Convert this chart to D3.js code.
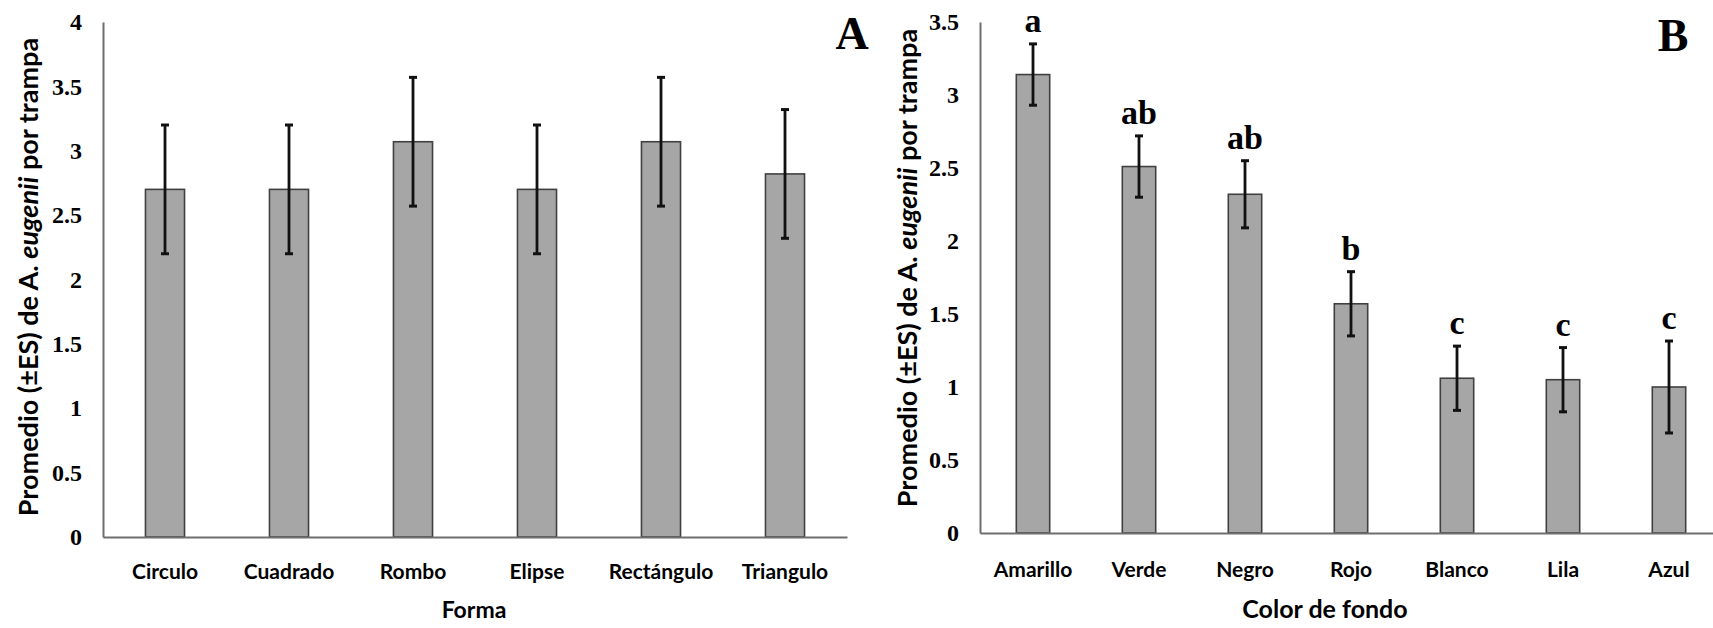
<!DOCTYPE html>
<html>
<head>
<meta charset="utf-8">
<script src="https://cdn.jsdelivr.net/npm/d3@7"></script>
<style>
  body { margin: 0; background: #fff; }
  .axis path { stroke: #6e6e6e; stroke-width: 2; }
  .bar { fill: #a6a6a6; stroke: #404040; stroke-width: 1.6; }
  .err { stroke: #111; stroke-width: 2.8; }
  .cap { stroke: #111; stroke-width: 3; }
  .title { font-family: Lato, "Open Sans", sans-serif; font-weight: bold; fill: #000; }
  .letter { font-family: "Liberation Serif", "Times New Roman", serif; font-weight: bold; font-size: 34px; text-anchor: middle; }
  .panel { font-family: "Liberation Serif", "Times New Roman", serif; font-weight: bold; font-size: 46px; text-anchor: middle; }
</style>
</head>
<body>
<svg id="chart"></svg>
<script>
// Panel A - shape of trap
const formaCategories = ['Circulo', 'Cuadrado', 'Rombo', 'Elipse', 'Rectángulo', 'Triangulo'];
const formaMeans = [2.7, 2.7, 3.07, 2.7, 3.07, 2.82];
const formaErrors = [0.5, 0.5, 0.5, 0.5, 0.5, 0.5];
const formaTicks = [0, 0.5, 1, 1.5, 2, 2.5, 3, 3.5, 4];

// Panel B - background colour
const colorCategories = ['Amarillo', 'Verde', 'Negro', 'Rojo', 'Blanco', 'Lila', 'Azul'];
const colorMeans = [3.14, 2.51, 2.32, 1.57, 1.06, 1.05, 1.0];
const colorErrors = [0.21, 0.21, 0.23, 0.22, 0.22, 0.22, 0.315];
const colorLetters = ['a', 'ab', 'ab', 'b', 'c', 'c', 'c'];
const colorTicks = [0, 0.5, 1, 1.5, 2, 2.5, 3, 3.5];

class BarChart {

    constructor(_config, _data) {
        this.config = {
            svg: _config.svg,
            left: _config.left,
            top: _config.top,
            width: _config.width,
            height: _config.height,
            yMax: _config.yMax,
            ticks: _config.ticks,
            xTitle: _config.xTitle,
            xTitleX: _config.xTitleX,
            xTitleSize: _config.xTitleSize,
            yTitleX: _config.yTitleX,
            yTitleY: _config.yTitleY,
            xPadding: _config.xPadding,
            panel: _config.panel,
            panelX: _config.panelX,
            panelY: _config.panelY
        }
        this.data = _data;
        this.initVis();
    }

    initVis() {
        let vis = this;

        vis.xScale = d3.scaleBand()
            .domain(vis.data.map(d => d.cat))
            .range([0, vis.config.width])
            .paddingInner(0.685)
            .paddingOuter(0.3425);

        vis.yScale = d3.scaleLinear()
            .domain([0, vis.config.yMax])
            .range([vis.config.height, 0]);

        vis.xAxis = d3.axisBottom(vis.xScale)
            .tickSize(0)
            .tickPadding(vis.config.xPadding);

        vis.yAxis = d3.axisLeft(vis.yScale)
            .tickValues(vis.config.ticks)
            .tickSize(0)
            .tickSizeOuter(0)
            .tickPadding(21)
            .tickFormat(d => d);

        vis.chart = vis.config.svg.append('g')
            .attr('transform', `translate(${vis.config.left},${vis.config.top})`);

        vis.marks = vis.chart.append('g');

        vis.xAxisG = vis.chart.append('g')
            .attr('class', 'axis x-axis')
            .attr('transform', `translate(0,${vis.config.height})`);

        vis.yAxisG = vis.chart.append('g')
            .attr('class', 'axis y-axis');

        // axis titles
        vis.config.svg.append('text')
            .attr('class', 'title')
            .attr('text-anchor', 'middle')
            .attr('x', vis.config.xTitleX)
            .attr('y', 618)
            .style('font-size', vis.config.xTitleSize + 'px')
            .text(vis.config.xTitle);

        const yt = vis.config.svg.append('text')
            .attr('class', 'title')
            .attr('text-anchor', 'middle')
            .attr('dominant-baseline', 'central')
            .attr('transform', `translate(${vis.config.yTitleX},${vis.config.yTitleY}) rotate(-90)`)
            .style('font-size', '27px');
        yt.append('tspan').text('Promedio (±ES) de A. ');
        yt.append('tspan').style('font-style', 'italic').text('eugenii');
        yt.append('tspan').text(' por trampa');

        vis.config.svg.append('text')
            .attr('class', 'panel')
            .attr('x', vis.config.panelX)
            .attr('y', vis.config.panelY)
            .text(vis.config.panel);

        vis.renderVis();
    }

    renderVis() {
        let vis = this;
        const cx = d => vis.xScale(d.cat) + vis.xScale.bandwidth() / 2;

        vis.marks.selectAll('.bar')
            .data(vis.data)
            .join('rect')
            .attr('class', 'bar')
            .attr('x', d => vis.xScale(d.cat))
            .attr('width', vis.xScale.bandwidth())
            .attr('y', d => vis.yScale(d.mean))
            .attr('height', d => vis.config.height - vis.yScale(d.mean));

        vis.marks.selectAll('.err')
            .data(vis.data)
            .join('line')
            .attr('class', 'err')
            .attr('x1', cx).attr('x2', cx)
            .attr('y1', d => vis.yScale(d.mean - d.err))
            .attr('y2', d => vis.yScale(d.mean + d.err));

        const caps = vis.data.flatMap(d => [
            { x: cx(d), v: d.mean - d.err },
            { x: cx(d), v: d.mean + d.err }
        ]);
        vis.marks.selectAll('.cap')
            .data(caps)
            .join('line')
            .attr('class', 'cap')
            .attr('x1', d => d.x - 4).attr('x2', d => d.x + 4)
            .attr('y1', d => vis.yScale(d.v))
            .attr('y2', d => vis.yScale(d.v));

        vis.marks.selectAll('.letter')
            .data(vis.data.filter(d => d.letter))
            .join('text')
            .attr('class', 'letter')
            .attr('x', cx)
            .attr('y', d => vis.yScale(d.mean + d.err) - 12)
            .text(d => d.letter);

        vis.xAxisG.call(vis.xAxis);
        vis.yAxisG.call(vis.yAxis);
        vis.xAxisG.select('.domain').attr('stroke', '#555');

        vis.yAxisG.selectAll('text')
            .attr('font-family', '"Liberation Serif", "Times New Roman", serif')
            .attr('font-weight', 'bold')
            .attr('font-size', 24)
            .attr('fill', '#000');
        vis.xAxisG.selectAll('text')
            .attr('font-family', 'Lato, "Open Sans", sans-serif')
            .attr('font-weight', 'bold')
            .attr('font-size', 21)
            .attr('fill', '#000');
    }
}

const svg = d3.select('#chart')
    .attr('width', 1713)
    .attr('height', 628);

new BarChart({
    svg: svg, left: 103, top: 22, width: 744, height: 515,
    yMax: 4, ticks: formaTicks, xTitle: 'Forma', xTitleX: 474, xTitleSize: 23, xPadding: 27,
    yTitleX: 27, yTitleY: 277, panel: 'A', panelX: 852, panelY: 49
}, formaCategories.map((c, i) => ({ cat: c, mean: formaMeans[i], err: formaErrors[i] })));

new BarChart({
    svg: svg, left: 980, top: 22, width: 742, height: 511,
    yMax: 3.5, ticks: colorTicks, xTitle: 'Color de fondo', xTitleX: 1325, xTitleSize: 25, xPadding: 29,
    yTitleX: 906, yTitleY: 268, panel: 'B', panelX: 1673, panelY: 51
}, colorCategories.map((c, i) => ({ cat: c, mean: colorMeans[i], err: colorErrors[i], letter: colorLetters[i] })));
</script>
</body>
</html>
